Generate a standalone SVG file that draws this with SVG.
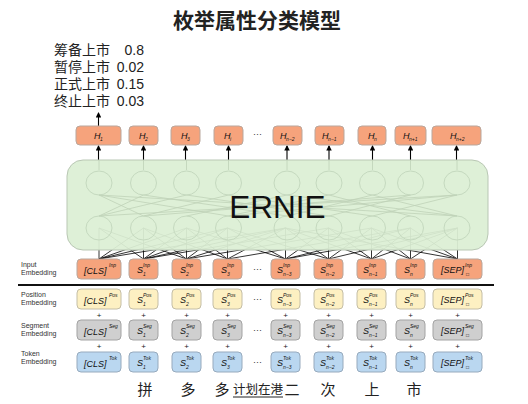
<svg xmlns="http://www.w3.org/2000/svg" width="528" height="404" viewBox="0 0 528 404">
<defs>
<marker id="ah" viewBox="0 0 6 6" refX="5" refY="3" markerWidth="5" markerHeight="5" orient="auto"><path d="M0,0 L6,3 L0,6 z" fill="#000"/></marker>
<style>
.inp{fill:#f6a37c;stroke:#b9a79d;stroke-width:1}
.pos{fill:#fdf0c2;stroke:#c4bea6;stroke-width:1}
.seg{fill:#cfcfcf;stroke:#a3a3a3;stroke-width:1}
.tok{fill:#bad7f0;stroke:#97aabd;stroke-width:1}
.m{font-family:"Liberation Sans",Arial,sans-serif;font-style:italic;font-size:9px;fill:#111}
.s{font-family:"Liberation Sans",Arial,sans-serif;font-style:italic;font-size:5px;fill:#111}
.lab{font-family:"Liberation Sans",Arial,sans-serif;font-size:7px;fill:#333}
.dots{font-family:"Liberation Sans",Arial,sans-serif;font-size:9px;fill:#333}
.plus{font-family:"Liberation Sans",Arial,sans-serif;font-size:8px;fill:#222;text-anchor:middle}
.cjk{font-family:"Liberation Sans","Noto Sans CJK SC",sans-serif;fill:#222}
.arr{stroke:#000;stroke-width:1.1;fill:none;marker-end:url(#ah)}
.cir{fill:none;stroke:#c5d9bf;stroke-width:1}
.faint{stroke:#bfd2b8;stroke-width:0.8;fill:none}
</style>
</defs>
<rect width="528" height="404" fill="#fff"/>

<text x="257" y="28" text-anchor="middle" font-family="'Noto Sans CJK SC',sans-serif" font-weight="bold" font-size="21" fill="#222">枚举属性分类模型</text>

<g id="probs" class="cjk" font-size="14">
<text x="54" y="55">筹备上市</text><text x="144" y="55" text-anchor="end">0.8</text>
<text x="54" y="72">暂停上市</text><text x="144" y="72" text-anchor="end">0.02</text>
<text x="54" y="89">正式上市</text><text x="144" y="89" text-anchor="end">0.15</text>
<text x="54" y="106">终止上市</text><text x="144" y="106" text-anchor="end">0.03</text>
</g>

<g id="connectors">
<path stroke="#000" stroke-width="0.8" fill="none" d="
M99,259 L99,228 M99,259 L143.5,228 M99,259 L186.5,228 M99,259 L227.5,228 M99,259 L285.5,228
M143.5,259 L99,228 M143.5,259 L143.5,228 M143.5,259 L186.5,228 M143.5,259 L227.5,228 M143.5,259 L285.5,228 M143.5,259 L328.5,228
M186.5,259 L99,228 M186.5,259 L143.5,228 M186.5,259 L186.5,228 M186.5,259 L227.5,228 M186.5,259 L285.5,228 M186.5,259 L371.5,228
M227.5,259 L143.5,228 M227.5,259 L186.5,228 M227.5,259 L227.5,228 M227.5,259 L285.5,228 M227.5,259 L410.5,228
M285.5,259 L186.5,228 M285.5,259 L227.5,228 M285.5,259 L285.5,228 M285.5,259 L328.5,228 M285.5,259 L410.5,228 M285.5,259 L457.5,228
M328.5,259 L227.5,228 M328.5,259 L285.5,228 M328.5,259 L328.5,228 M328.5,259 L371.5,228 M328.5,259 L457.5,228
M371.5,259 L285.5,228 M371.5,259 L328.5,228 M371.5,259 L371.5,228 M371.5,259 L410.5,228 M371.5,259 L457.5,228
M410.5,259 L328.5,228 M410.5,259 L371.5,228 M410.5,259 L410.5,228 M410.5,259 L457.5,228
M457.5,259 L285.5,228 M457.5,259 L371.5,228 M457.5,259 L410.5,228 M457.5,259 L457.5,228"/>
<line class="arr" x1="98.5" y1="126" x2="98.5" y2="113"/>
<line class="arr" x1="98.5" y1="160" x2="98.5" y2="146"/>
<line class="arr" x1="143.5" y1="160" x2="143.5" y2="146"/>
<line class="arr" x1="185.5" y1="160" x2="185.5" y2="146"/>
<line class="arr" x1="228.5" y1="160" x2="228.5" y2="146"/>
<line class="arr" x1="287" y1="160" x2="287" y2="146"/>
<line class="arr" x1="329" y1="160" x2="329" y2="146"/>
<line class="arr" x1="372.5" y1="160" x2="372.5" y2="146"/>
<line class="arr" x1="410.5" y1="160" x2="410.5" y2="146"/>
<line class="arr" x1="456.5" y1="160" x2="456.5" y2="146"/>
</g>

<g id="ernie">
<rect x="67" y="160" width="421" height="90" rx="16" fill="#dcefd5" fill-opacity="0.94" stroke="#b9c7b4" stroke-width="1"/>
<path class="faint" d="M99,160 V170 M143.5,160 V170 M186.5,160 V170 M228.5,160 V170 M287,160 V170 M329,160 V170 M372.5,160 V170 M410.5,160 V170 M457,160 V170
M99,195 L143.5,216 M99,195 L228.5,216 M143.5,195 L99,216 M143.5,195 L287,216 M186.5,195 L99,216 M186.5,195 L329,216 M228.5,195 L143.5,216 M228.5,195 L372.5,216 M287,195 L186.5,216 M287,195 L457,216 M329,195 L228.5,216 M329,195 L410.5,216 M372.5,195 L287,216 M372.5,195 L457,216 M410.5,195 L329,216 M410.5,195 L143.5,216 M457,195 L372.5,216 M457,195 L228.5,216 M99,195 L457,216 M457,195 L99,216"/>
<g class="cir">
<ellipse cx="99" cy="183" rx="13" ry="12"/><ellipse cx="143.5" cy="183" rx="13" ry="12"/><ellipse cx="186.5" cy="183" rx="13" ry="12"/><ellipse cx="228.5" cy="183" rx="13" ry="12"/><ellipse cx="287" cy="183" rx="13" ry="12"/><ellipse cx="329" cy="183" rx="13" ry="12"/><ellipse cx="372.5" cy="183" rx="13" ry="12"/><ellipse cx="410.5" cy="183" rx="13" ry="12"/><ellipse cx="457" cy="183" rx="13" ry="12"/>
<ellipse cx="99" cy="228" rx="13" ry="12"/><ellipse cx="143.5" cy="228" rx="13" ry="12"/><ellipse cx="186.5" cy="228" rx="13" ry="12"/><ellipse cx="228.5" cy="228" rx="13" ry="12"/><ellipse cx="287" cy="228" rx="13" ry="12"/><ellipse cx="329" cy="228" rx="13" ry="12"/><ellipse cx="372.5" cy="228" rx="13" ry="12"/><ellipse cx="410.5" cy="228" rx="13" ry="12"/><ellipse cx="457" cy="228" rx="13" ry="12"/>
</g>
<text x="277.5" y="218" text-anchor="middle" font-family="'Liberation Sans',Arial,sans-serif" font-size="31.5" fill="#111">ERNIE</text>
</g>

<g id="hidden">
<rect class="inp" x="76" y="126" width="45" height="19" rx="4"/><text class="m" x="94" y="139">H</text><text class="s" x="100" y="141">1</text>
<rect class="inp" x="129" y="126" width="29" height="19" rx="4"/><text class="m" x="139" y="139">H</text><text class="s" x="145" y="141">2</text>
<rect class="inp" x="171" y="126" width="29" height="19" rx="4"/><text class="m" x="181" y="139">H</text><text class="s" x="187" y="141">3</text>
<rect class="inp" x="214" y="126" width="29" height="19" rx="4"/><text class="m" x="224" y="139">H</text><text class="s" x="230" y="141">i</text>
<text class="dots" x="253" y="137">···</text>
<rect class="inp" x="273" y="126" width="29" height="19" rx="4"/><text class="m" x="280" y="139">H</text><text class="s" x="286" y="141">n−2</text>
<rect class="inp" x="315" y="126" width="29" height="19" rx="4"/><text class="m" x="322" y="139">H</text><text class="s" x="328" y="141">n−1</text>
<rect class="inp" x="358" y="126" width="28" height="19" rx="4"/><text class="m" x="368" y="139">H</text><text class="s" x="374" y="141">n</text>
<rect class="inp" x="395" y="126" width="31" height="19" rx="4"/><text class="m" x="403" y="139">H</text><text class="s" x="409" y="141">n+1</text>
<rect class="inp" x="432" y="126" width="49" height="19" rx="4"/><text class="m" x="450" y="139">H</text><text class="s" x="456" y="141">n+2</text>
</g>

<g id="labels" class="lab">
<text x="21" y="267">Input</text><text x="21" y="275">Embedding</text>
<text x="21" y="297">Position</text><text x="21" y="305">Embedding</text>
<text x="21" y="328">Segment</text><text x="21" y="336">Embedding</text>
<text x="21" y="356">Token</text><text x="21" y="364">Embedding</text>
</g>

<line x1="18" y1="285" x2="494" y2="285" stroke="#111" stroke-width="2"/>

<g id="input-row">
<rect class="inp" x="77" y="259" width="44" height="20" rx="4"/><text class="m" x="84" y="274">[CLS]</text><text class="s" x="109" y="267">Inp</text>
<rect class="inp" x="129" y="259" width="29" height="20" rx="4"/><text class="m" x="137" y="273">S</text><text class="s" x="143" y="267">Inp</text><text class="s" x="143" y="276">1</text>
<rect class="inp" x="172" y="259" width="29" height="20" rx="4"/><text class="m" x="180" y="273">S</text><text class="s" x="186" y="267">Inp</text><text class="s" x="186" y="276">2</text>
<rect class="inp" x="213" y="259" width="29" height="20" rx="4"/><text class="m" x="221" y="273">S</text><text class="s" x="227" y="267">Inp</text><text class="s" x="227" y="276">3</text>
<text class="dots" x="253" y="272">···</text>
<rect class="inp" x="271" y="259" width="29" height="20" rx="4"/><text class="m" x="277" y="273">S</text><text class="s" x="283" y="267">Inp</text><text class="s" x="283" y="276">n−3</text>
<rect class="inp" x="314" y="259" width="29" height="20" rx="4"/><text class="m" x="320" y="273">S</text><text class="s" x="326" y="267">Inp</text><text class="s" x="326" y="276">n−2</text>
<rect class="inp" x="357" y="259" width="29" height="20" rx="4"/><text class="m" x="363" y="273">S</text><text class="s" x="369" y="267">Inp</text><text class="s" x="369" y="276">n−1</text>
<rect class="inp" x="396" y="259" width="29" height="20" rx="4"/><text class="m" x="404" y="273">S</text><text class="s" x="410" y="267">Inp</text><text class="s" x="410" y="276">n</text>
<rect class="inp" x="433" y="259" width="49" height="20" rx="4"/><text class="m" x="441" y="273">[SEP]</text><text class="s" x="465" y="267">Inp</text><text class="s" x="466" y="276">□</text>
</g>

<g id="position-row">
<rect class="pos" x="77" y="289" width="44" height="20" rx="4"/><text class="m" x="84" y="304">[CLS]</text><text class="s" x="109" y="297">Pos</text>
<rect class="pos" x="129" y="289" width="29" height="20" rx="4"/><text class="m" x="137" y="303">S</text><text class="s" x="143" y="297">Pos</text><text class="s" x="143" y="306">1</text>
<rect class="pos" x="172" y="289" width="29" height="20" rx="4"/><text class="m" x="180" y="303">S</text><text class="s" x="186" y="297">Pos</text><text class="s" x="186" y="306">2</text>
<rect class="pos" x="213" y="289" width="29" height="20" rx="4"/><text class="m" x="221" y="303">S</text><text class="s" x="227" y="297">Pos</text><text class="s" x="227" y="306">3</text>
<text class="dots" x="253" y="302">···</text>
<rect class="pos" x="271" y="289" width="29" height="20" rx="4"/><text class="m" x="277" y="303">S</text><text class="s" x="283" y="297">Pos</text><text class="s" x="283" y="306">n−3</text>
<rect class="pos" x="314" y="289" width="29" height="20" rx="4"/><text class="m" x="320" y="303">S</text><text class="s" x="326" y="297">Pos</text><text class="s" x="326" y="306">n−2</text>
<rect class="pos" x="357" y="289" width="29" height="20" rx="4"/><text class="m" x="363" y="303">S</text><text class="s" x="369" y="297">Pos</text><text class="s" x="369" y="306">n−1</text>
<rect class="pos" x="396" y="289" width="29" height="20" rx="4"/><text class="m" x="404" y="303">S</text><text class="s" x="410" y="297">Pos</text><text class="s" x="410" y="306">n</text>
<rect class="pos" x="433" y="289" width="49" height="20" rx="4"/><text class="m" x="441" y="303">[SEP]</text><text class="s" x="465" y="297">Pos</text><text class="s" x="466" y="306">□</text>
</g>

<g id="plus1" class="plus">
<text x="99" y="318">+</text><text x="143.5" y="318">+</text><text x="186.5" y="318">+</text><text x="227.5" y="318">+</text><text x="285.5" y="318">+</text><text x="328.5" y="318">+</text><text x="371.5" y="318">+</text><text x="410.5" y="318">+</text><text x="457.5" y="318">+</text>
</g>

<g id="segment-row">
<rect class="seg" x="77" y="320" width="44" height="20" rx="4"/><text class="m" x="84" y="335">[CLS]</text><text class="s" x="109" y="328">Seg</text>
<rect class="seg" x="129" y="320" width="29" height="20" rx="4"/><text class="m" x="137" y="334">S</text><text class="s" x="143" y="328">Seg</text><text class="s" x="143" y="337">1</text>
<rect class="seg" x="172" y="320" width="29" height="20" rx="4"/><text class="m" x="180" y="334">S</text><text class="s" x="186" y="328">Seg</text><text class="s" x="186" y="337">2</text>
<rect class="seg" x="213" y="320" width="29" height="20" rx="4"/><text class="m" x="221" y="334">S</text><text class="s" x="227" y="328">Seg</text><text class="s" x="227" y="337">3</text>
<text class="dots" x="253" y="333">···</text>
<rect class="seg" x="271" y="320" width="29" height="20" rx="4"/><text class="m" x="277" y="334">S</text><text class="s" x="283" y="328">Seg</text><text class="s" x="283" y="337">n−3</text>
<rect class="seg" x="314" y="320" width="29" height="20" rx="4"/><text class="m" x="320" y="334">S</text><text class="s" x="326" y="328">Seg</text><text class="s" x="326" y="337">n−2</text>
<rect class="seg" x="357" y="320" width="29" height="20" rx="4"/><text class="m" x="363" y="334">S</text><text class="s" x="369" y="328">Seg</text><text class="s" x="369" y="337">n−1</text>
<rect class="seg" x="396" y="320" width="29" height="20" rx="4"/><text class="m" x="404" y="334">S</text><text class="s" x="410" y="328">Seg</text><text class="s" x="410" y="337">n</text>
<rect class="seg" x="433" y="320" width="49" height="20" rx="4"/><text class="m" x="441" y="334">[SEP]</text><text class="s" x="465" y="328">Seg</text><text class="s" x="466" y="337">□</text>
</g>

<g id="plus2" class="plus">
<text x="99" y="349">+</text><text x="143.5" y="349">+</text><text x="186.5" y="349">+</text><text x="227.5" y="349">+</text><text x="285.5" y="349">+</text><text x="328.5" y="349">+</text><text x="371.5" y="349">+</text><text x="410.5" y="349">+</text><text x="457.5" y="349">+</text>
</g>

<g id="token-row">
<rect class="tok" x="77" y="352" width="44" height="20" rx="4"/><text class="m" x="84" y="367">[CLS]</text><text class="s" x="109" y="360">Tok</text>
<rect class="tok" x="129" y="352" width="29" height="20" rx="4"/><text class="m" x="137" y="366">S</text><text class="s" x="143" y="360">Tok</text><text class="s" x="143" y="369">1</text>
<rect class="tok" x="172" y="352" width="29" height="20" rx="4"/><text class="m" x="180" y="366">S</text><text class="s" x="186" y="360">Tok</text><text class="s" x="186" y="369">2</text>
<rect class="tok" x="213" y="352" width="29" height="20" rx="4"/><text class="m" x="221" y="366">S</text><text class="s" x="227" y="360">Tok</text><text class="s" x="227" y="369">3</text>
<text class="dots" x="253" y="365">···</text>
<rect class="tok" x="271" y="352" width="29" height="20" rx="4"/><text class="m" x="277" y="366">S</text><text class="s" x="283" y="360">Tok</text><text class="s" x="283" y="369">n−3</text>
<rect class="tok" x="314" y="352" width="29" height="20" rx="4"/><text class="m" x="320" y="366">S</text><text class="s" x="326" y="360">Tok</text><text class="s" x="326" y="369">n−2</text>
<rect class="tok" x="357" y="352" width="29" height="20" rx="4"/><text class="m" x="363" y="366">S</text><text class="s" x="369" y="360">Tok</text><text class="s" x="369" y="369">n−1</text>
<rect class="tok" x="396" y="352" width="29" height="20" rx="4"/><text class="m" x="404" y="366">S</text><text class="s" x="410" y="360">Tok</text><text class="s" x="410" y="369">n</text>
<rect class="tok" x="433" y="352" width="49" height="20" rx="4"/><text class="m" x="441" y="366">[SEP]</text><text class="s" x="465" y="360">Tok</text><text class="s" x="466" y="369">□</text>
</g>

<g id="sentence" class="cjk" font-size="15" text-anchor="middle">
<text x="145" y="395">拼</text>
<text x="188" y="395">多</text>
<text x="222" y="395">多</text>
<text x="258" y="394" font-size="12.5">计划在港</text>
<line x1="233" y1="397" x2="283" y2="397" stroke="#222" stroke-width="1"/>
<text x="292" y="395">二</text>
<text x="328" y="395">次</text>
<text x="372" y="395">上</text>
<text x="414" y="395">市</text>
</g>
</svg>
